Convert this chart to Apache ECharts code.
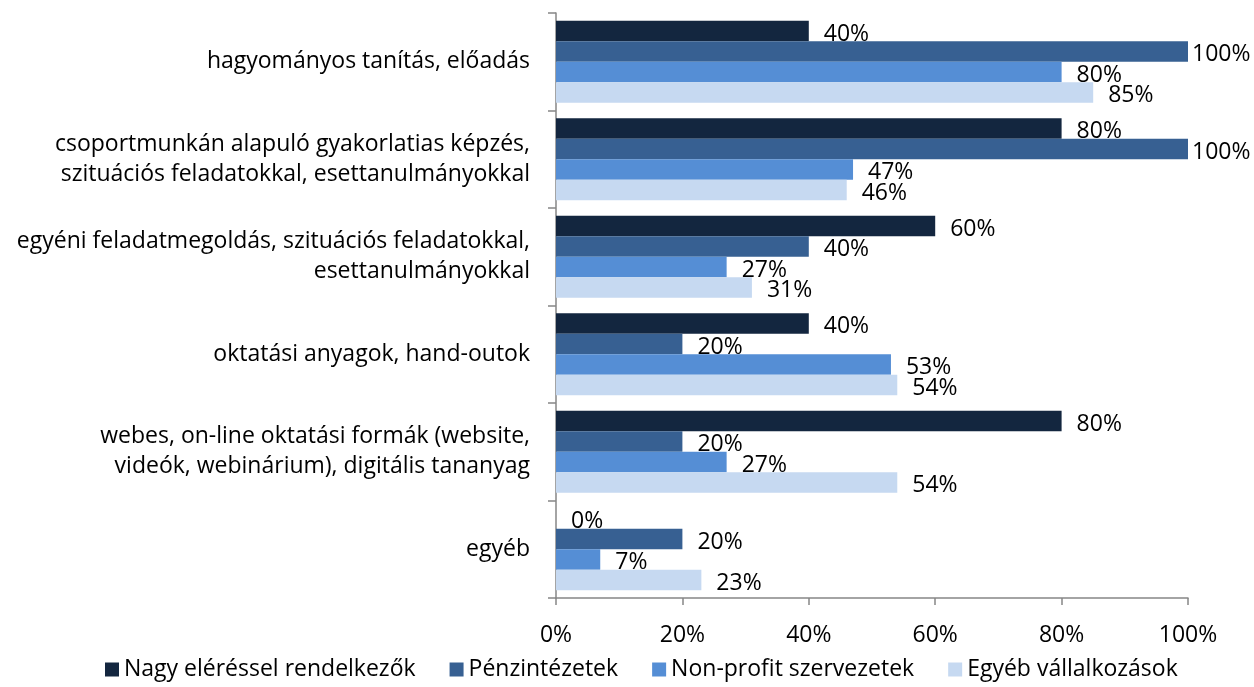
<!DOCTYPE html>
<html>
<head>
<meta charset="utf-8">
<script src="https://cdn.jsdelivr.net/npm/echarts@6/dist/echarts.min.js"></script>
<style>
  html, body { margin: 0; padding: 0; background: #fff; }
  #chart { width: 1254px; height: 687px; }
</style>
</head>
<body>
<div id="chart"></div>
<script>
// kategóriák (felülről lefelé)
var categories = [
    'hagyományos tanítás, előadás',
    'csoportmunkán alapuló gyakorlatias képzés,\nszituációs feladatokkal, esettanulmányokkal',
    'egyéni feladatmegoldás, szituációs feladatokkal,\nesettanulmányokkal',
    'oktatási anyagok, hand-outok',
    'webes, on-line oktatási formák (website,\nvideók, webinárium), digitális tananyag',
    'egyéb'
];
var seriesNames = ['Nagy eléréssel rendelkezők', 'Pénzintézetek', 'Non-profit szervezetek', 'Egyéb vállalkozások'];
var nagy = [40, 80, 60, 40, 80, 0];
var penz = [100, 100, 40, 20, 20, 20];
var nonprofit = [80, 47, 27, 53, 27, 7];
var egyeb = [85, 46, 31, 54, 54, 23];
var xTicks = [0, 20, 40, 60, 80, 100];

var colors = ['#13263F', '#376092', '#558ED5', '#C6D9F1'];
var font = 'Open Sans';
var fs = 23;

var chart = echarts.init(document.getElementById('chart'));

function makeSeries(name, values, idx) {
    return {
        name: name,
        type: 'bar',
        barGap: '0%',
        barCategoryGap: '16%',
        itemStyle: { color: colors[idx] },
        label: {
            show: true,
            position: 'right',
            distance: 15,
            offset: [0, 3],
            formatter: '{c}%',
            color: '#000',
            fontFamily: font,
            fontSize: fs
        },
        data: values.map(function (v) {
            // 100%-nál a felirat közelebb van
            if (v === 100) return { value: v, label: { distance: 4 } };
            return v;
        })
    };
}

var option = {
    animation: false,
    textStyle: { fontFamily: font },
    grid: {
        left: 556,
        right: 66,
        top: 13,
        bottom: 89,
        containLabel: false
    },
    legend: {
        bottom: 1,
        left: 100,
        itemWidth: 14,
        itemHeight: 14,
        itemGap: 34,
        icon: 'rect',
        textStyle: { fontSize: fs, color: '#000', fontFamily: font },
        data: seriesNames
    },
    xAxis: {
        type: 'value',
        min: 0,
        max: 100,
        interval: 20,
        axisLine: { show: true, lineStyle: { color: '#868686', width: 1.5 } },
        axisTick: { show: true, length: 7, lineStyle: { color: '#868686', width: 1.5 } },
        splitLine: { show: false },
        axisLabel: {
            margin: 26,
            color: '#000',
            fontSize: fs,
            fontFamily: font,
            formatter: function (v) { return xTicks.indexOf(v) >= 0 ? v + '%' : ''; }
        }
    },
    yAxis: {
        type: 'category',
        inverse: true,
        data: categories,
        axisLine: { show: true, lineStyle: { color: '#868686', width: 1.5 } },
        axisTick: { show: true, length: 8, lineStyle: { color: '#868686', width: 1.5 } },
        axisLabel: {
            margin: 26,
            color: '#000',
            fontSize: fs,
            lineHeight: 30,
            align: 'right',
            fontFamily: font
        }
    },
    series: [
        makeSeries(seriesNames[0], nagy, 0),
        makeSeries(seriesNames[1], penz, 1),
        makeSeries(seriesNames[2], nonprofit, 2),
        makeSeries(seriesNames[3], egyeb, 3)
    ]
};
option && chart.setOption(option);
</script>
</body>
</html>
